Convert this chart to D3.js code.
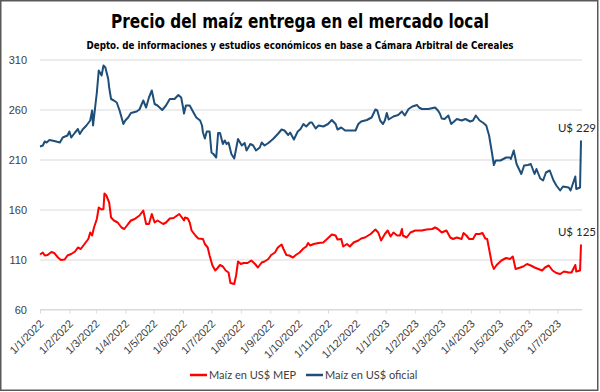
<!DOCTYPE html>
<html>
<head>
<meta charset="utf-8">
<script src="https://cdn.jsdelivr.net/npm/d3@7"></script>
<style>
  body { margin: 0; background: #fff; }
  svg { display: block; font-family: Lato, "Liberation Sans", sans-serif; }
</style>
</head>
<body>
<div class="chart"></div>
<script>
// Maíz en US$ oficial
const oficial = [
  ["2022-01-01",223],["2022-01-04",224],["2022-01-06",228],["2022-01-08",227],["2022-01-11",229.5],
  ["2022-01-16",228.5],["2022-01-22",227],["2022-01-25",232],["2022-01-30",234],["2022-02-01",238],
  ["2022-02-03",232],["2022-02-07",237],["2022-02-10",240.5],["2022-02-12",235.5],["2022-02-15",240],
  ["2022-02-19",244],["2022-02-23",249],["2022-02-25",259],["2022-02-26",244],["2022-02-28",260.5],
  ["2022-03-02",277],["2022-03-04",299],["2022-03-07",294],["2022-03-09",304],["2022-03-11",302],
  ["2022-03-14",290.5],["2022-03-15",282],["2022-03-17",270.5],["2022-03-20",269],["2022-03-23",267],
  ["2022-03-26",259],["2022-03-30",245.5],["2022-04-01",249],["2022-04-04",252],["2022-04-07",256.5],
  ["2022-04-13",258],["2022-04-16",260],["2022-04-20",269],["2022-04-23",262],["2022-04-26",272],
  ["2022-04-29",279],["2022-05-02",265.5],["2022-05-05",264],["2022-05-10",259.5],["2022-05-14",264],
  ["2022-05-18",270.5],["2022-05-23",270.5],["2022-05-27",274.5],["2022-05-30",272],["2022-06-01",262],
  ["2022-06-02",256],["2022-06-04",264],["2022-06-08",264],["2022-06-12",257],["2022-06-15",252],
  ["2022-06-19",249],["2022-06-21",244],["2022-06-22",237],["2022-06-24",231],["2022-06-26",238],
  ["2022-06-29",238],["2022-07-01",217],["2022-07-03",215.5],["2022-07-06",212],["2022-07-08",236.5],
  ["2022-07-10",236.5],["2022-07-13",225.5],["2022-07-15",229],["2022-07-17",225.5],["2022-07-19",227],
  ["2022-07-22",215.5],["2022-07-25",211],["2022-07-29",230.5],["2022-08-02",224],["2022-08-05",226.5],
  ["2022-08-07",219],["2022-08-11",225.5],["2022-08-14",224],["2022-08-17",219],["2022-08-21",222],
  ["2022-08-23",227],["2022-08-26",224],["2022-08-30",226.5],["2022-09-04",230.5],["2022-09-09",235.5],
  ["2022-09-13",240],["2022-09-16",239],["2022-09-20",234.5],["2022-09-22",237],["2022-09-26",230],
  ["2022-09-30",238],["2022-10-03",240.5],["2022-10-06",245.5],["2022-10-09",243],["2022-10-13",247],
  ["2022-10-15",247],["2022-10-19",241],["2022-10-22",244],["2022-10-27",243],["2022-11-01",245.5],
  ["2022-11-05",249.5],["2022-11-09",245.5],["2022-11-11",240],["2022-11-15",242],["2022-11-19",239],
  ["2022-11-23",239],["2022-11-30",239],["2022-12-03",245.5],["2022-12-06",248],["2022-12-12",249.5],
  ["2022-12-17",252],["2022-12-21",260],["2022-12-23",259],["2022-12-26",249],["2022-12-29",245.5],
  ["2022-12-31",249],["2023-01-02",256.5],["2023-01-04",250],["2023-01-09",253],["2023-01-14",254.5],
  ["2023-01-18",258],["2023-01-21",254],["2023-01-25",260.5],["2023-01-29",263],["2023-02-03",264.5],
  ["2023-02-05",262],["2023-02-08",260.5],["2023-02-15",260.5],["2023-02-22",262],["2023-02-25",259],
  ["2023-02-27",256],["2023-03-01",251],["2023-03-04",250.5],["2023-03-08",254],["2023-03-11",245.5],
  ["2023-03-17",250.5],["2023-03-22",249],["2023-03-26",250.5],["2023-03-31",248],["2023-04-03",249],
  ["2023-04-06",254],["2023-04-10",249],["2023-04-14",246.5],["2023-04-17",244],["2023-04-20",234],
  ["2023-04-23",217],["2023-04-25",204.5],["2023-04-27",209],["2023-05-02",209],["2023-05-05",210.5],
  ["2023-05-08",212],["2023-05-12",212],["2023-05-13",210.5],["2023-05-16",219],["2023-05-19",205.5],
  ["2023-05-24",195.5],["2023-05-27",204],["2023-05-31",204.5],["2023-06-03",205.5],["2023-06-07",195.5],
  ["2023-06-09",200.5],["2023-06-13",191],["2023-06-16",189],["2023-06-19",197],["2023-06-23",199],
  ["2023-06-27",189],["2023-06-30",184],["2023-07-04",179],["2023-07-07",183],["2023-07-13",182],
  ["2023-07-15",179],["2023-07-20",193],["2023-07-21",180.5],["2023-07-25",182],["2023-07-26",229]
];

// Maíz en US$ MEP
const mep = [
  ["2022-01-01",115],["2022-01-04",117],["2022-01-06",114],["2022-01-09",114.5],["2022-01-13",117.5],
  ["2022-01-16",116.5],["2022-01-20",112],["2022-01-23",109.5],["2022-01-27",110],["2022-01-30",114],
  ["2022-02-03",115.5],["2022-02-07",118],["2022-02-10",122],["2022-02-13",120.5],["2022-02-17",125.5],
  ["2022-02-21",130.5],["2022-02-23",137],["2022-02-25",134],["2022-02-27",142],["2022-03-02",150.5],
  ["2022-03-04",162],["2022-03-07",160],["2022-03-09",160.5],["2022-03-10",176],["2022-03-12",174],
  ["2022-03-15",167],["2022-03-17",152],["2022-03-20",149],["2022-03-24",147],["2022-03-28",142],
  ["2022-03-31",140.5],["2022-04-04",145.5],["2022-04-07",149],["2022-04-11",150.5],["2022-04-16",154],
  ["2022-04-20",159],["2022-04-23",145.5],["2022-04-26",145.5],["2022-04-29",155.5],["2022-05-02",147],
  ["2022-05-05",149],["2022-05-11",145.5],["2022-05-14",147],["2022-05-18",151],["2022-05-22",151.5],
  ["2022-05-28",155.5],["2022-05-30",153],["2022-06-02",149],["2022-06-03",152],["2022-06-06",151],
  ["2022-06-08",147],["2022-06-10",139],["2022-06-14",134],["2022-06-17",131],["2022-06-22",130.5],
  ["2022-06-24",125.5],["2022-06-27",122],["2022-06-29",114],["2022-07-02",104],["2022-07-05",99],
  ["2022-07-07",101],["2022-07-10",104.5],["2022-07-13",103],["2022-07-16",99],["2022-07-19",97],
  ["2022-07-21",86.5],["2022-07-25",85.5],["2022-07-27",94],["2022-07-29",108],["2022-08-01",105.5],
  ["2022-08-04",106.5],["2022-08-08",106.5],["2022-08-12",109],["2022-08-16",105.5],["2022-08-19",102],
  ["2022-08-23",107],["2022-08-26",108],["2022-08-30",110.5],["2022-09-02",114.5],["2022-09-06",117],
  ["2022-09-09",122],["2022-09-13",125],["2022-09-15",120.5],["2022-09-18",114.5],["2022-09-21",114],
  ["2022-09-25",112],["2022-09-28",114.5],["2022-10-02",117],["2022-10-06",121],["2022-10-09",123],
  ["2022-10-11",126.5],["2022-10-13",124],["2022-10-17",125.5],["2022-10-22",126.5],["2022-10-27",127],
  ["2022-10-31",130.5],["2022-11-05",135],["2022-11-09",134],["2022-11-11",130],["2022-11-15",130.5],
  ["2022-11-17",123],["2022-11-21",125.5],["2022-11-24",123],["2022-11-28",127],["2022-12-03",129],
  ["2022-12-06",131],["2022-12-10",132],["2022-12-16",135.5],["2022-12-21",140],["2022-12-24",137],
  ["2022-12-27",129],["2022-12-31",135.5],["2023-01-03",139],["2023-01-06",133],["2023-01-09",137],
  ["2023-01-13",134],["2023-01-16",134],["2023-01-18",140.5],["2023-01-19",134],["2023-01-23",132],
  ["2023-01-27",137],["2023-02-01",139],["2023-02-08",139],["2023-02-13",140],["2023-02-19",140.5],
  ["2023-02-22",142],["2023-02-25",140.5],["2023-03-01",137],["2023-03-06",139],["2023-03-10",132],
  ["2023-03-13",130.5],["2023-03-17",132],["2023-03-22",130.5],["2023-03-24",136.5],["2023-03-27",134],
  ["2023-03-30",130.5],["2023-04-03",130.5],["2023-04-06",135.5],["2023-04-10",135.5],["2023-04-13",136.5],
  ["2023-04-16",131],["2023-04-18",130.5],["2023-04-20",120.5],["2023-04-23",105.5],["2023-04-25",100.5],
  ["2023-04-28",104.5],["2023-05-03",109],["2023-05-08",111.5],["2023-05-12",110.5],["2023-05-15",113],
  ["2023-05-18",100.5],["2023-05-23",102],["2023-05-26",103],["2023-05-30",105.5],["2023-06-03",104],
  ["2023-06-07",102],["2023-06-11",100.5],["2023-06-15",99],["2023-06-18",102],["2023-06-22",104],
  ["2023-06-26",99],["2023-06-30",96.5],["2023-07-04",95.5],["2023-07-08",98],["2023-07-13",97],
  ["2023-07-16",97],["2023-07-20",104.5],["2023-07-21",98],["2023-07-25",99],["2023-07-26",125]
];

const yTicks = [60, 110, 160, 210, 260, 310];
const monthTicks = ["2022-01-01","2022-02-01","2022-03-01","2022-04-01","2022-05-01","2022-06-01",
  "2022-07-01","2022-08-01","2022-09-01","2022-10-01","2022-11-01","2022-12-01",
  "2023-01-01","2023-02-01","2023-03-01","2023-04-01","2023-05-01","2023-06-01","2023-07-01"];
const monthLabels = ["1/1/2022","1/2/2022","1/3/2022","1/4/2022","1/5/2022","1/6/2022",
  "1/7/2022","1/8/2022","1/9/2022","1/10/2022","1/11/2022","1/12/2022",
  "1/1/2023","1/2/2023","1/3/2023","1/4/2023","1/5/2023","1/6/2023","1/7/2023"];
const seriesNames = ["Maíz en US$ MEP", "Maíz en US$ oficial"];
const endLabels = ["U$ 125", "U$ 229"];

const width = 600, height = 392;
const parse = d3.timeParse("%Y-%m-%d");
const colors = ["#ff0000", "#1f4e79"];

const svg = d3.select(".chart").append("svg")
  .attr("width", width)
  .attr("height", height);

svg.append("rect")
  .attr("x", 0.75).attr("y", 0.75)
  .attr("width", 597).attr("height", 389.5)
  .attr("fill", "#fff")
  .attr("stroke", "#595959")
  .attr("stroke-width", 1.5);

const x = d3.scaleTime()
  .domain([parse("2022-01-01"), parse("2023-07-26")])
  .range([40, 581]);
const y = d3.scaleLinear()
  .domain([60, 310])
  .range([309.5, 59.5]);

// gridlines + y labels
const yAxis = d3.axisLeft(y).tickValues(yTicks).tickSize(-(582 - 40)).tickPadding(13);
svg.append("g")
  .attr("class", "y-axis")
  .attr("transform", "translate(40,0)")
  .call(yAxis)
  .call(g => g.select(".domain").remove())
  .call(g => g.selectAll("line").attr("stroke", "#d9d9d9"))
  .call(g => g.selectAll("text").attr("fill", "#404040").attr("font-size", "11px"));

// x axis with month ticks
const xAxis = d3.axisBottom(x)
  .tickValues(monthTicks.map(parse))
  .tickFormat((d, i) => monthLabels[i])
  .tickSize(4)
  .tickSizeOuter(0);
svg.append("g")
  .attr("class", "x-axis")
  .attr("transform", `translate(0,${y(60)})`)
  .call(xAxis)
  .call(g => g.select(".domain").attr("stroke", "#d9d9d9").attr("d", `M40,0H582`))
  .call(g => g.selectAll("line").attr("stroke", "#d9d9d9"))
  .call(g => g.selectAll("text")
    .attr("fill", "#404040")
    .attr("font-size", "11px")
    .attr("text-anchor", "end")
    .attr("dy", null)
    .attr("y", 0)
    .attr("transform", "translate(4,15) rotate(-45)"));

const line = d3.line()
  .x(d => x(parse(d[0])))
  .y(d => y(d[1]));

[mep, oficial].forEach((s, i) => {
  svg.append("path")
    .datum(s)
    .attr("fill", "none")
    .attr("stroke", colors[i])
    .attr("stroke-width", 2)
    .attr("stroke-linejoin", "round")
    .attr("d", line);

  const last = s[s.length - 1];
  svg.append("text")
    .attr("x", 596)
    .attr("y", y(last[1]) - 9)
    .attr("text-anchor", "end")
    .attr("font-size", "11.5px")
    .attr("fill", "#262626")
    .text(endLabels[i]);
});

// title
svg.append("text")
  .attr("x", 300).attr("y", 28)
  .attr("text-anchor", "middle")
  .attr("font-family", "'Liberation Sans Narrow', 'DejaVu Sans Condensed', sans-serif")
  .attr("font-weight", "bold")
  .attr("font-size", "20px")
  .attr("textLength", 378)
  .attr("lengthAdjust", "spacingAndGlyphs")
  .text("Precio del maíz entrega en el mercado local");

svg.append("text")
  .attr("x", 300).attr("y", 49)
  .attr("text-anchor", "middle")
  .attr("font-family", "'Liberation Sans Narrow', 'DejaVu Sans Condensed', sans-serif")
  .attr("font-weight", "bold")
  .attr("font-size", "11px")
  .attr("textLength", 427)
  .attr("lengthAdjust", "spacingAndGlyphs")
  .text("Depto. de informaciones y estudios económicos en base a Cámara Arbitral de Cereales");

// legend
const legendX = [190, 306];
const legend = svg.selectAll(".legend")
  .data(seriesNames)
  .enter()
  .append("g")
  .attr("class", "legend")
  .attr("transform", (d, i) => `translate(${legendX[i]},375)`);
legend.append("line")
  .attr("x1", 0).attr("x2", 17)
  .attr("stroke", (d, i) => colors[i])
  .attr("stroke-width", 2.5);
legend.append("text")
  .attr("x", 19)
  .attr("dy", "0.35em")
  .attr("font-size", "11px")
  .attr("fill", "#404040")
  .text(d => d);
</script>
</body>
</html>
